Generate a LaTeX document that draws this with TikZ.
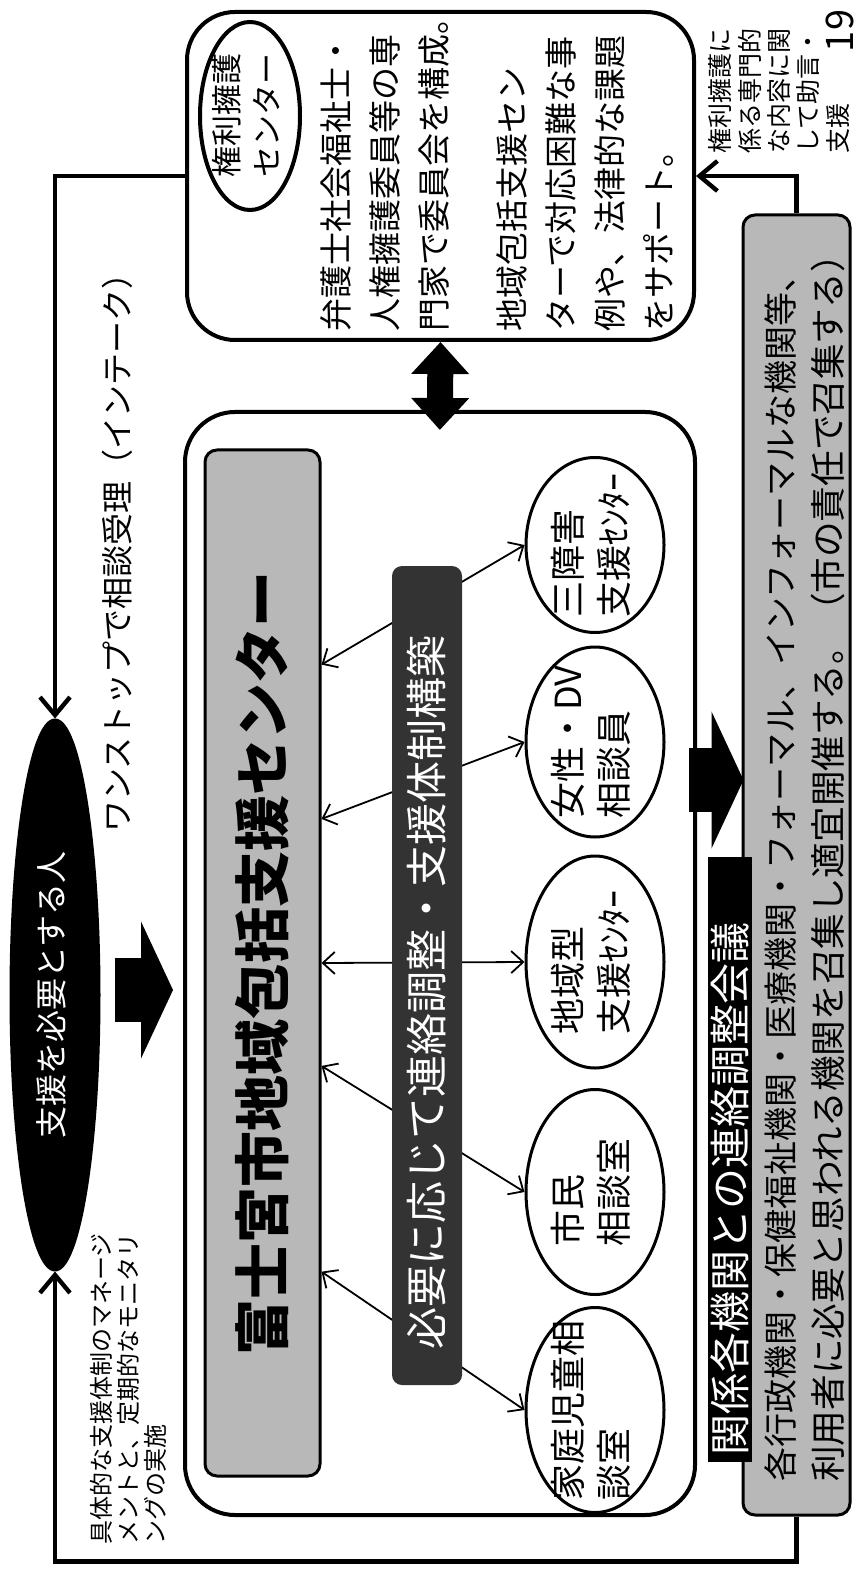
\documentclass[tikz,border=0pt]{standalone}
\usepackage{fontspec}
\setmainfont{Noto Sans CJK JP}
\usepackage{graphicx}
\usetikzlibrary{arrows.meta, calc, shapes.geometric}

\newcommand{\vtext}[1]{\rotatebox{90}{\begin{tabular}{@{}l@{}}#1\end{tabular}}}
\newcommand{\fs}[2]{\fontsize{#1pt}{#2pt}\selectfont}

\tikzset{
    panel/.style={draw, line width=2pt, rounded corners=24pt, inner sep=0pt},
    shade/.style={draw, line width=1.5pt, rounded corners=6pt, fill=black!28, inner sep=0pt},
    oval/.style={draw, ellipse, line width=1.5pt, inner sep=0pt},
    link/.style={line width=2.2pt, -{Straight Barb[length=9pt, width=15pt]}},
    duo/.style={line width=0.9pt, {Straight Barb[length=6pt, width=11pt]}-{Straight Barb[length=6pt, width=11pt]}},
    fat/.style={line width=32pt, -{Triangle[length=16pt, width=68pt]}},
}

\begin{document}
\begin{tikzpicture}[x=0.5pt, y=-0.5pt]
    \useasboundingbox (0,0) rectangle (862,1572);

    % 権利擁護センター
    \node [panel, minimum width=253.5pt, minimum height=164pt] (ra) at (440.5,176) {};
    \node [oval, line width=2pt, minimum width=50pt, minimum height=94pt,
           label={[font=\fs{15.5}{20}]center:\vtext{権利擁護\\センター}}] (raoval) at (250,116) {};
    \node [anchor=south west, inner sep=0pt, font=\fs{16.5}{24.5}] (radesc) at (314,332)
        {\vtext{弁護士社会福祉士・\\人権擁護委員等の専\\門家で委員会を構成。\\[14.5pt]地域包括支援セン\\ターで対応困難な事\\例や、法律的な課題\\をサポート。}};
    \node [anchor=south west, inner sep=0pt, font=\fs{12.5}{14}] (ranote) at (708,154)
        {\vtext{権利擁護に\\係る専門的\\な内容に関\\して助言・\\支援}};
    \node [inner sep=0pt, font=\fs{19}{19}] (pageno) at (840,31) {\rotatebox{90}{19}};

    % 支援を必要とする人
    \node [oval, fill=black, minimum width=44pt, minimum height=275pt,
           label={[text=white, font=\fs{16}{16}]center:\vtext{支援を必要とする人}}] (person) at (55,995) {};
    \node [font=\fs{16}{16}] (intake) at (117,545) {\rotatebox{90}{ワンストップで相談受理（インテーク）}};
    \node [anchor=south west, inner sep=0pt, font=\fs{12}{11.5}] (manage) at (90,1545)
        {\vtext{具体的な支援体制のマネージ\\メントと、定期的なモニタリ\\ングの実施}};

    % 富士宮市地域包括支援センター
    \node [panel, rounded corners=25pt, minimum width=255pt, minimum height=551.5pt] (big) at (440,963.5) {};
    \node [shade, minimum width=57.5pt, minimum height=513pt, font=\fs{28}{28}\bfseries] (fuji) at (262.5,963)
        {\rotatebox{90}{富士宮市地域包括支援センター}};

    \node [oval, minimum width=69pt, minimum height=87.5pt,
           label={[font=\fs{18}{23}]center:\vtext{三障害\\支援ｾﾝﾀｰ}}] (e1) at (595,545) {};
    \node [oval, minimum width=69pt, minimum height=95pt,
           label={[font=\fs{18}{23}]center:\vtext{女性・DV\\相談員}}] (e2) at (595,742) {};
    \node [oval, minimum width=69pt, minimum height=106pt,
           label={[font=\fs{18}{23}]center:\vtext{地域型\\支援ｾﾝﾀｰ}}] (e3) at (595,962) {};
    \node [oval, minimum width=69pt, minimum height=102.5pt,
           label={[font=\fs{18}{23}]center:\vtext{市民\\相談室}}] (e4) at (595,1192) {};
    \node [oval, minimum width=69pt, minimum height=102.5pt,
           label={[font=\fs{18}{23}]center:\vtext{家庭児童相\\談室}}] (e5) at (595,1410) {};

    \foreach \t/\e in {0.21/e1, 0.36/e2, 0.5/e3, 0.6/e4, 0.8/e5}
        \draw [duo] ($(fuji.north east)!\t!(fuji.south east)$) -- (\e.west);

    \node [fill=black!80, rounded corners=5pt, inner sep=0pt, minimum width=35pt, minimum height=409.5pt,
           text=white, font=\fs{21}{21}] (bar) at (427,975.5) {\rotatebox{90}{必要に応じて連絡調整・支援体制構築\hspace{17pt}}};

    % 関係各機関との連絡調整会議
    \node [shade, minimum width=53.5pt, minimum height=650pt] (kaigi) at (796.5,865) {};
    \node [anchor=south west, inner sep=0pt, font=\fs{17}{24}] (kaiginote) at (759,1482)
        {\vtext{各行政機関・保健福祉機関・医療機関・フォーマル、インフォーマルな機関等、\\\fs{17.8}{24}利用者に必要と思われる機関を召集し適宜開催する。（市の責任で召集する）}};
    \node [fill=black, text=white, inner sep=0pt, minimum width=22pt, minimum height=302.5pt,
           font=\fs{20.5}{20.5}] (kaigititle) at (730,1159.5) {\rotatebox{90}{\makebox[296pt][l]{関係各機関との連絡調整会議}}};

    % arrows
    \draw [line width=13pt, shorten >=-10pt, {Triangle[length=16pt, width=28pt]}-{Triangle[length=16pt, width=28pt]}] (ra.south) -- (big.north);
    \draw [fat] ([xshift=7pt, yshift=2.5pt]person.east) -- ([xshift=-5pt, yshift=-13.25pt]big.west);
    \draw [fat] ([xshift=-4pt, yshift=91.75pt]big.east) -- ([xshift=1pt, yshift=42.5pt]kaigi.west);

    \draw [link] (ra.west) -| (person.north);
    \draw [link] (kaigi.north) |- (ra.east);
    \draw [link] (kaigi.south) -- ++(0,45) -| (person.south);
\end{tikzpicture}
\end{document}
